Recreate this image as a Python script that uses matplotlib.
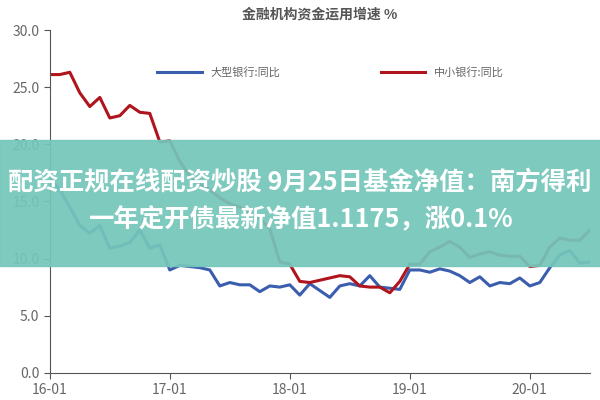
import matplotlib.pyplot as plt
import numpy as np

plt.rcParams['font.family'] = ['Noto Sans CJK SC', 'DejaVu Sans']

# monthly, 2016-01 .. 2020-07
large_bank = [17.0, 16.0, 14.5, 12.9, 12.2, 12.9, 10.9, 11.1, 11.4, 12.5, 10.9, 11.2,
              9.0, 9.4, 9.3, 9.2, 9.0, 7.6, 7.9, 7.7, 7.7, 7.1, 7.6, 7.5,
              7.7, 6.8, 7.8, 7.2, 6.6, 7.6, 7.8, 7.6, 8.5, 7.5, 7.4, 7.3,
              9.0, 9.0, 8.8, 9.1, 8.9, 8.5, 7.9, 8.4, 7.6, 7.9, 7.8, 8.3,
              7.6, 7.9, 9.2, 10.3, 10.7, 9.6, 9.7]
small_bank = [26.1, 26.1, 26.3, 24.5, 23.3, 24.1, 22.3, 22.5, 23.4, 22.8, 22.7, 20.2,
              20.3, 18.5, 17.2, 16.5, 16.0, 15.3, 14.8, 14.5, 14.0, 13.5, 12.6, 9.7,
              9.5, 8.0, 7.9, 8.1, 8.3, 8.5, 8.4, 7.6, 7.5, 7.5, 7.0, 8.0,
              9.5, 9.5, 10.6, 11.0, 11.5, 11.0, 10.1, 10.4, 10.6, 10.3, 10.2, 10.2,
              9.3, 9.4, 11.0, 11.8, 11.6, 11.6, 12.5]
tick_labels = ['16-01', '17-01', '18-01', '19-01', '20-01']
yticks = [0, 5, 10, 15, 20, 25, 30]

months = np.arange(len(large_bank))

fig = plt.figure(figsize=(6, 4), dpi=100)
ax = fig.add_axes([0.083, 0.068, 0.9, 0.857])
ax.plot(months, large_bank, color='#3a5dae', lw=2.2, label='大型银行:同比')
ax.plot(months, small_bank, color='#b0141c', lw=2.2, label='中小银行:同比')
ax.set_xlim(0, 54)
ax.set_ylim(0, 30)
ax.set_xticks([0, 12, 24, 36, 48])
ax.set_xticklabels(tick_labels)
ax.set_yticks(yticks)
ax.set_yticklabels(['%.1f' % v for v in yticks])
for s in ['top', 'right']:
    ax.spines[s].set_visible(False)
for s in ['left', 'bottom']:
    ax.spines[s].set_color('#555555')
ax.tick_params(colors='#555555', labelcolor='#666666', labelsize=10, direction='out', length=4)
ax.set_title('金融机构资金运用增速 %', fontsize=10, fontweight='bold', color='#555555', pad=8)
ax.legend(loc='upper center', bbox_to_anchor=(0.52, 0.92), ncol=2, frameon=False,
          fontsize=8, labelcolor='#666666', columnspacing=9, handlelength=4)

# overlay banner
fig.patches.append(plt.Rectangle((0, 0.335), 1, 0.315, transform=fig.transFigure,
                                 color='#74c6ba', alpha=0.93, zorder=5))
fig.text(0.5, 0.545, '配资正规在线配资炒股 9月25日基金净值：南方得利', ha='center', va='center',
         fontsize=18.3, fontweight='bold', color='white', zorder=6)
fig.text(0.5, 0.45, '一年定开债最新净值1.1175，涨0.1%', ha='center', va='center',
         fontsize=18.3, fontweight='bold', color='white', zorder=6)

fig.savefig('out.png', dpi=100)
